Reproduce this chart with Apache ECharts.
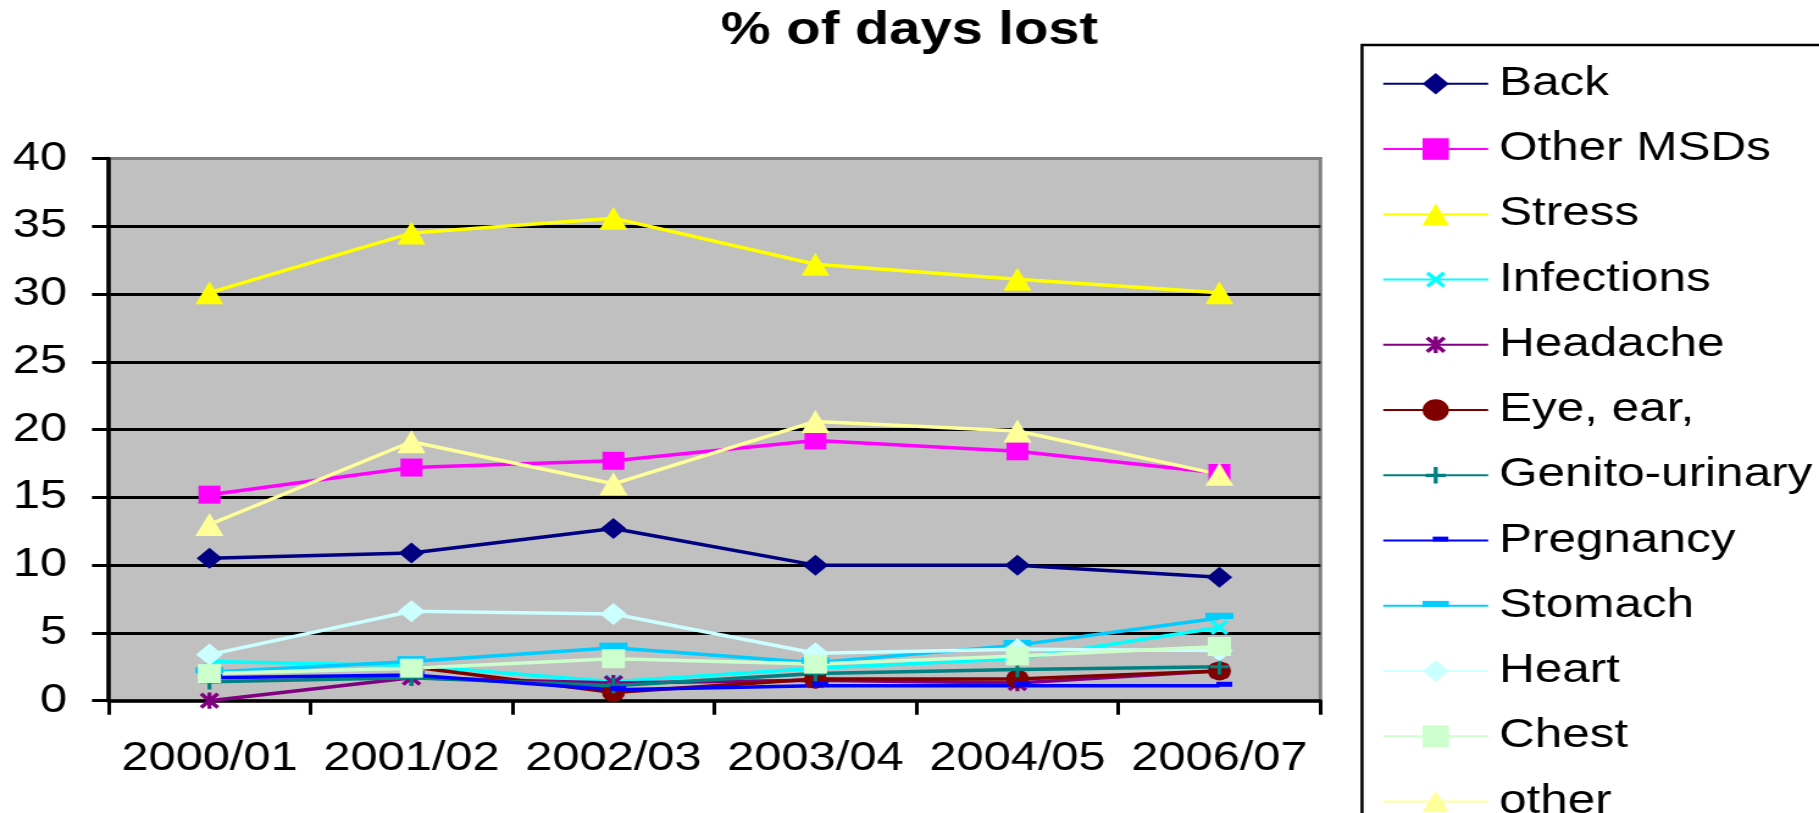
<!DOCTYPE html>
<html>
<head>
<meta charset="utf-8">
<script src="https://cdn.jsdelivr.net/npm/echarts@6/dist/echarts.min.js"></script>
<style>
  html, body { margin: 0; padding: 0; background: #ffffff; overflow: hidden; }
  #wrap { width: 1819px; height: 813px; overflow: hidden; position: relative; }
  /* the chart is laid out narrower and widened horizontally, giving the broad lettering */
  #chart { width: 1491px; height: 813px; transform: scaleX(1.22); transform-origin: 0 0; }
</style>
</head>
<body>
<div id="wrap"><div id="chart"></div></div>
<script>
// Financial years on the category axis
const categories = ['2000/01', '2001/02', '2002/03', '2003/04', '2004/05', '2006/07'];

// Percentage of days lost, by cause
const back          = [10.5, 10.9, 12.7, 10.0, 10.0, 9.1];
const otherMSDs     = [15.2, 17.2, 17.7, 19.2, 18.4, 16.8];
const stress        = [30.1, 34.5, 35.6, 32.2, 31.1, 30.1];
const infections    = [2.9, 2.6, 1.4, 2.4, 3.1, 5.4];
const headache      = [0.0, 1.7, 1.3, 1.5, 1.3, 2.2];
const eyeEar        = [null, 2.5, 0.6, 1.6, 1.6, 2.2];
const genitoUrinary = [1.4, 1.7, 1.1, 2.0, 2.3, 2.5];
const pregnancy     = [1.7, 1.9, 0.8, 1.1, 1.1, 1.1];
const stomach       = [2.1, 2.9, 3.9, 2.8, 4.1, 6.1];
const heart         = [3.4, 6.6, 6.4, 3.5, 3.8, 3.7];
const chest         = [2.0, 2.4, 3.1, 2.7, 3.3, 4.0];
const other         = [13.0, 19.1, 16.0, 20.6, 19.9, 16.7];

// Y axis range and step
const yMin = 0, yMax = 40, yStep = 5;

const FONT = '"Liberation Sans", Arial, Helvetica, sans-serif';

// Marker outlines (square boxes, with spare margin where the mark is small)
const X_MARK = 'path://M-3.5,-3.5M23.5,23.5M0,3L3,0L20,17L17,20ZM17,0L20,3L3,20L0,17Z';
const STAR_MARK = 'path://M-3,-3M23,23M0,3L3,0L20,17L17,20ZM17,0L20,3L3,20L0,17ZM8,0L12,0L12,20L8,20Z';
const PLUS_MARK = 'path://M-3,-3M23,23M8,0L12,0L12,20L8,20ZM0,8L20,8L20,12L0,12Z';
const LONG_DASH = 'path://M0,0M22,22M0,6L22,6L22,12L0,12Z';
const SHORT_DASH = 'path://M0,0M22,22M8.5,7L21.5,7L21.5,12L8.5,12Z';

const seriesDefs = [
  { name: 'Back',           data: back,          color: '#000080', symbol: 'diamond',  size: 21 },
  { name: 'Other MSDs',     data: otherMSDs,     color: '#FF00FF', symbol: 'rect',     size: 18 },
  { name: 'Stress',         data: stress,        color: '#FFFF00', symbol: 'triangle', size: 23 },
  { name: 'Infections',     data: infections,    color: '#00FFFF', symbol: X_MARK,     size: 20 },
  { name: 'Headache',       data: headache,      color: '#800080', symbol: STAR_MARK,  size: 21 },
  { name: 'Eye, ear,',      data: eyeEar,        color: '#800000', symbol: 'circle',   size: 19 },
  { name: 'Genito-urinary', data: genitoUrinary, color: '#008080', symbol: PLUS_MARK,  size: 20 },
  { name: 'Pregnancy',      data: pregnancy,     color: '#0000FF', symbol: SHORT_DASH, size: 22 },
  { name: 'Stomach',        data: stomach,       color: '#00CCFF', symbol: LONG_DASH,  size: 23 },
  { name: 'Heart',          data: heart,         color: '#CCFFFF', symbol: 'diamond',  size: 22 },
  { name: 'Chest',          data: chest,         color: '#CCFFCC', symbol: 'rect',     size: 19 },
  { name: 'other',          data: other,         color: '#FFFF99', symbol: 'triangle', size: 23 }
];

const chart = echarts.init(document.getElementById('chart'), null, { renderer: 'canvas' });

const option = {
  animation: false,
  backgroundColor: '#ffffff',
  textStyle: { fontFamily: FONT },
  title: {
    text: '% of days lost',
    left: 'center',
    top: 8,
    padding: 0,
    textStyle: { fontFamily: FONT, fontSize: 46, fontWeight: 'bold', color: '#000000' }
  },
  grid: {
    show: true,
    left: 88.9,
    top: 158.5,
    width: 993.4,
    height: 542.2,
    containLabel: false,
    outerBoundsMode: 'none',
    backgroundColor: '#C0C0C0',
    borderColor: '#808080',
    borderWidth: 3
  },
  graphic: [{
    type: 'rect',
    silent: true,
    z: 0,
    shape: { x: 1116.4, y: 45, width: 600, height: 900 },
    style: { fill: '#ffffff', stroke: '#000000', lineWidth: 2.5 }
  }],
  legend: {
    orient: 'vertical',
    left: 1132.8,
    top: 63.3,
    height: 1000,
    padding: 0,
    itemWidth: 86,
    itemHeight: 27,
    itemGap: 24.25,
    selectedMode: false,
    data: seriesDefs.map(s => s.name),
    textStyle: { fontFamily: FONT, fontSize: 40.5, color: '#000000', lineHeight: 40, padding: [0, 0, 0, 4] }
  },
  xAxis: {
    type: 'category',
    data: categories,
    boundaryGap: true,
    axisLine: { show: true, onZero: false, lineStyle: { color: '#000000', width: 3.5 } },
    axisTick: { show: true, interval: 0, alignWithLabel: false, length: 14, lineStyle: { color: '#000000', width: 3 } },
    axisLabel: { interval: 0, fontFamily: FONT, fontSize: 40, color: '#000000', margin: 38.5 },
    splitLine: { show: false }
  },
  yAxis: {
    type: 'value',
    min: yMin,
    max: yMax,
    interval: yStep,
    axisLine: { show: true, lineStyle: { color: '#000000', width: 3.5 } },
    axisTick: { show: true, length: 13.5, lineStyle: { color: '#000000', width: 3 } },
    axisLabel: { fontFamily: FONT, fontSize: 40, color: '#000000', margin: 34 },
    splitLine: { show: true, showMinLine: false, showMaxLine: false, lineStyle: { color: '#000000', width: 3 } }
  },
  series: seriesDefs.map(s => ({
    name: s.name,
    type: 'line',
    data: s.data,
    symbol: s.symbol,
    symbolSize: s.size,
    showSymbol: true,
    connectNulls: false,
    color: s.color,
    lineStyle: { color: s.color, width: 3.5 },
    itemStyle: { color: s.color, opacity: 1 },
    emphasis: { disabled: true }
  }))
};

chart.setOption(option);
</script>
</body>
</html>
